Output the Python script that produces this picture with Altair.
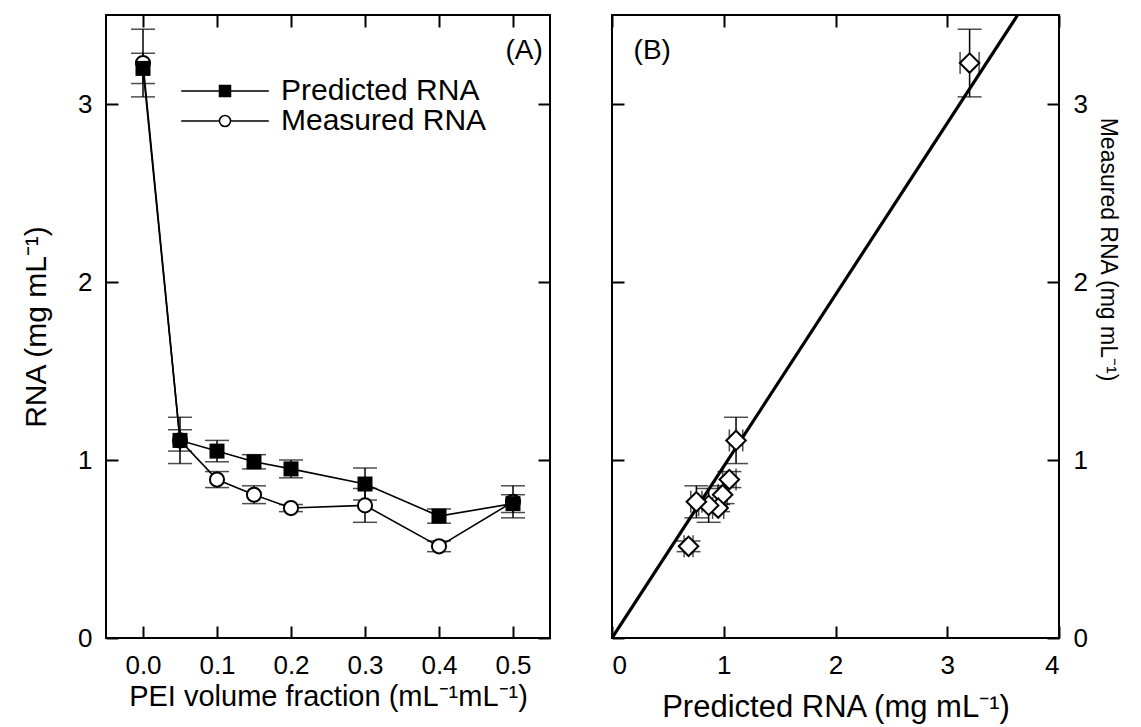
import altair as alt
import pandas as pd

# ---- data ----
pei = [0.0, 0.05, 0.1, 0.15, 0.2, 0.3, 0.4, 0.5]
pred = [3.20, 1.11, 1.05, 0.99, 0.95, 0.865, 0.685, 0.755]
pred_err = [0.085, 0.06, 0.06, 0.04, 0.05, 0.09, 0.04, 0.05]
meas = [3.23, 1.11, 0.89, 0.805, 0.73, 0.745, 0.515, 0.765]
meas_err = [0.19, 0.13, 0.045, 0.05, 0.02, 0.095, 0.03, 0.09]
fit_x = [0.0, 3.63]
fit_y = [0.0, 3.5]
series = ["Predicted RNA", "Measured RNA"]
panel_labels = ["(A)", "(B)"]
x_ticks_a = [0.0, 0.1, 0.2, 0.3, 0.4, 0.5]
x_ticks_b = [0, 1, 2, 3, 4]
y_ticks = [0, 1, 2, 3]

FONT = "Liberation Sans"
TICK = 12

long = pd.DataFrame({
    "pei": pei + pei,
    "rna": pred + meas,
    "err": pred_err + meas_err,
    "series": [series[0]] * len(pei) + [series[1]] * len(pei),
})
wide = pd.DataFrame({"pei": pei, "pred": pred, "pred_err": pred_err,
                     "meas": meas, "meas_err": meas_err})
fit = pd.DataFrame({"x": fit_x, "y": fit_y})

xs_a = alt.Scale(domain=[-0.05, 0.55], nice=False, zero=False)
xs_b = alt.Scale(domain=[0, 4], nice=False)
ys = alt.Scale(domain=[0, 3.5], nice=False)


def ax(orient, values, title=None, labels=True, fmt=None, lp=14, tp=4, tfs=30, **extra):
    kw = dict(orient=orient, values=values, offset=-TICK, tickSize=TICK,
              tickWidth=2, tickColor="black", domain=False, grid=False,
              labels=labels, labelFont=FONT, labelFontSize=26,
              labelColor="black", labelPadding=lp,
              titleFont=FONT, titleFontSize=tfs, titleColor="black",
              titleFontWeight="normal", titlePadding=tp)
    kw["title"] = title if title is not None else ""
    if fmt:
        kw["format"] = fmt
    kw.update(extra)
    return alt.Axis(**kw)


# ---------------- Panel A ----------------
base_a = alt.Chart(long)
xa_none = alt.X("pei:Q", scale=xs_a, axis=None)

rules_a = base_a.mark_rule(color="black", strokeWidth=1.5).transform_calculate(
    lo="datum.rna - datum.err", hi="datum.rna + datum.err"
).encode(
    x=alt.X("pei:Q", scale=xs_a,
            axis=ax("bottom", x_ticks_a, "PEI volume fraction (mL⁻¹mL⁻¹)", fmt=".1f", tp=4, tfs=29)),
    y=alt.Y("lo:Q", scale=ys, axis=ax("left", y_ticks, "RNA (mg mL⁻¹)", tp=26)),
    y2="hi:Q",
)
caps_lo_a = base_a.mark_tick(orient="horizontal", size=24, thickness=1.5, color="black").transform_calculate(
    lo="datum.rna - datum.err").encode(x=xa_none, y=alt.Y("lo:Q", scale=ys, axis=None))
caps_hi_a = base_a.mark_tick(orient="horizontal", size=24, thickness=1.5, color="black").transform_calculate(
    hi="datum.rna + datum.err").encode(x=xa_none, y=alt.Y("hi:Q", scale=ys, axis=None))

lines_a = base_a.mark_line(color="black", strokeWidth=1.6).encode(
    x=alt.X("pei:Q", scale=xs_a, axis=ax("top", x_ticks_a, labels=False)),
    y=alt.Y("rna:Q", scale=ys, axis=ax("right", y_ticks, labels=False)),
    detail="series:N",
)
circles_a = base_a.transform_filter(alt.datum.series == series[1]).mark_point(
    shape="circle", filled=True, fill="white", stroke="black", strokeWidth=2, size=200, opacity=1
).encode(x=xa_none, y=alt.Y("rna:Q", scale=ys, axis=None))
squares_a = base_a.transform_filter(alt.datum.series == series[0]).mark_point(
    shape="square", filled=True, color="black", size=225, opacity=1
).encode(x=xa_none, y=alt.Y("rna:Q", scale=ys, axis=None))

# legend symbols: dash + marker + dash (scaled by sqrt(size)/2 = 6 px per unit)
sym_pred = "M-7.3,0H-0.92M0.92,0H7.3M-0.92,-0.92H0.92V0.92H-0.92Z"
sym_meas = "M-7.3,0H-0.92M0.92,0H7.3M-0.92,0A0.92,0.92,0,1,0,0.92,0A0.92,0.92,0,1,0,-0.92,0Z"
leg = alt.Legend(title=None, orient="none", legendX=104, legendY=61, padding=0,
                 symbolSize=144, symbolStrokeWidth=1.5,
                 symbolOpacity=1, labelLimit=500,
                 labelFont=FONT, labelFontSize=30, labelColor="black",
                 labelOffset=41, rowPadding=0)
legend_a = base_a.mark_point(opacity=0, filled=True, strokeWidth=1.5).encode(
    x=xa_none, y=alt.Y("rna:Q", scale=ys, axis=None),
    shape=alt.Shape("series:N", scale=alt.Scale(domain=series, range=[sym_pred, sym_meas]), legend=leg),
    fill=alt.Fill("series:N", scale=alt.Scale(domain=series, range=["black", "white"]), legend=leg),
    stroke=alt.Stroke("series:N", scale=alt.Scale(domain=series, range=["black", "black"]), legend=leg),
)

lab_a = alt.Chart(pd.DataFrame({"x": [0.515], "y": [3.3], "t": [panel_labels[0]]})).mark_text(
    font=FONT, fontSize=28, color="black").encode(
    x=alt.X("x:Q", scale=xs_a, axis=None), y=alt.Y("y:Q", scale=ys, axis=None), text="t:N")

panel_a = alt.layer(rules_a, caps_lo_a, caps_hi_a, lines_a, circles_a, squares_a, legend_a, lab_a
                    ).resolve_axis(x="independent", y="independent").properties(width=444, height=623)

# ---------------- Panel B ----------------
base_b = alt.Chart(wide)
xb_none = alt.X("pred:Q", scale=xs_b, axis=None)
yb_none = alt.Y("meas:Q", scale=ys, axis=None)

fit_line = alt.Chart(fit).mark_line(color="black", strokeWidth=3.2, clip=True).encode(
    x=alt.X("x:Q", scale=xs_b, axis=ax("bottom", x_ticks_b, "Predicted RNA (mg mL⁻¹)", tp=14, tfs=31)),
    y=alt.Y("y:Q", scale=ys, axis=ax("right", y_ticks, "Measured RNA (mg mL⁻¹)", lp=14, tp=8, tfs=23,
                                     titleY=234)),
)
mirror_b = alt.Chart(fit).mark_line(opacity=0).encode(
    x=alt.X("x:Q", scale=xs_b, axis=ax("top", x_ticks_b, labels=False)),
    y=alt.Y("y:Q", scale=ys, axis=ax("left", y_ticks, labels=False)),
)
vrule_b = base_b.mark_rule(color="black", strokeWidth=1.5).transform_calculate(
    lo="datum.meas - datum.meas_err", hi="datum.meas + datum.meas_err"
).encode(x=xb_none, y=alt.Y("lo:Q", scale=ys, axis=None), y2="hi:Q")
hrule_b = base_b.mark_rule(color="black", strokeWidth=1.5).transform_calculate(
    lo="datum.pred - datum.pred_err", hi="datum.pred + datum.pred_err"
).encode(x=alt.X("lo:Q", scale=xs_b, axis=None), x2="hi:Q", y=yb_none)
vcap_lo = base_b.mark_tick(orient="horizontal", size=24, thickness=1.5, color="black").transform_calculate(
    lo="datum.meas - datum.meas_err").encode(x=xb_none, y=alt.Y("lo:Q", scale=ys, axis=None))
vcap_hi = base_b.mark_tick(orient="horizontal", size=24, thickness=1.5, color="black").transform_calculate(
    hi="datum.meas + datum.meas_err").encode(x=xb_none, y=alt.Y("hi:Q", scale=ys, axis=None))
hcap_lo = base_b.mark_tick(orient="vertical", size=22, thickness=1.5, color="black").transform_calculate(
    lo="datum.pred - datum.pred_err").encode(x=alt.X("lo:Q", scale=xs_b, axis=None), y=yb_none)
hcap_hi = base_b.mark_tick(orient="vertical", size=22, thickness=1.5, color="black").transform_calculate(
    hi="datum.pred + datum.pred_err").encode(x=alt.X("hi:Q", scale=xs_b, axis=None), y=yb_none)
diamonds = base_b.mark_point(shape="diamond", filled=True, fill="white", stroke="black",
                             strokeWidth=2, size=380, opacity=1).encode(x=xb_none, y=yb_none)
lab_b = alt.Chart(pd.DataFrame({"x": [0.36], "y": [3.3], "t": [panel_labels[1]]})).mark_text(
    font=FONT, fontSize=28, color="black").encode(
    x=alt.X("x:Q", scale=xs_b, axis=None), y=alt.Y("y:Q", scale=ys, axis=None), text="t:N")

panel_b = alt.layer(fit_line, mirror_b, vrule_b, hrule_b, vcap_lo, vcap_hi, hcap_lo, hcap_hi,
                    diamonds, lab_b).resolve_axis(x="independent", y="independent"
                                                   ).properties(width=447, height=623)

chart = alt.hconcat(panel_a, panel_b, spacing=58).resolve_scale(
    x="independent", shape="independent", fill="independent", stroke="independent"
).properties(
    padding={"left": 20, "top": 13, "right": 5, "bottom": 5},
    background="white",
).configure_view(stroke="black", strokeWidth=2)

chart.save("out.html", embed_options={"renderer": "svg", "actions": False})
